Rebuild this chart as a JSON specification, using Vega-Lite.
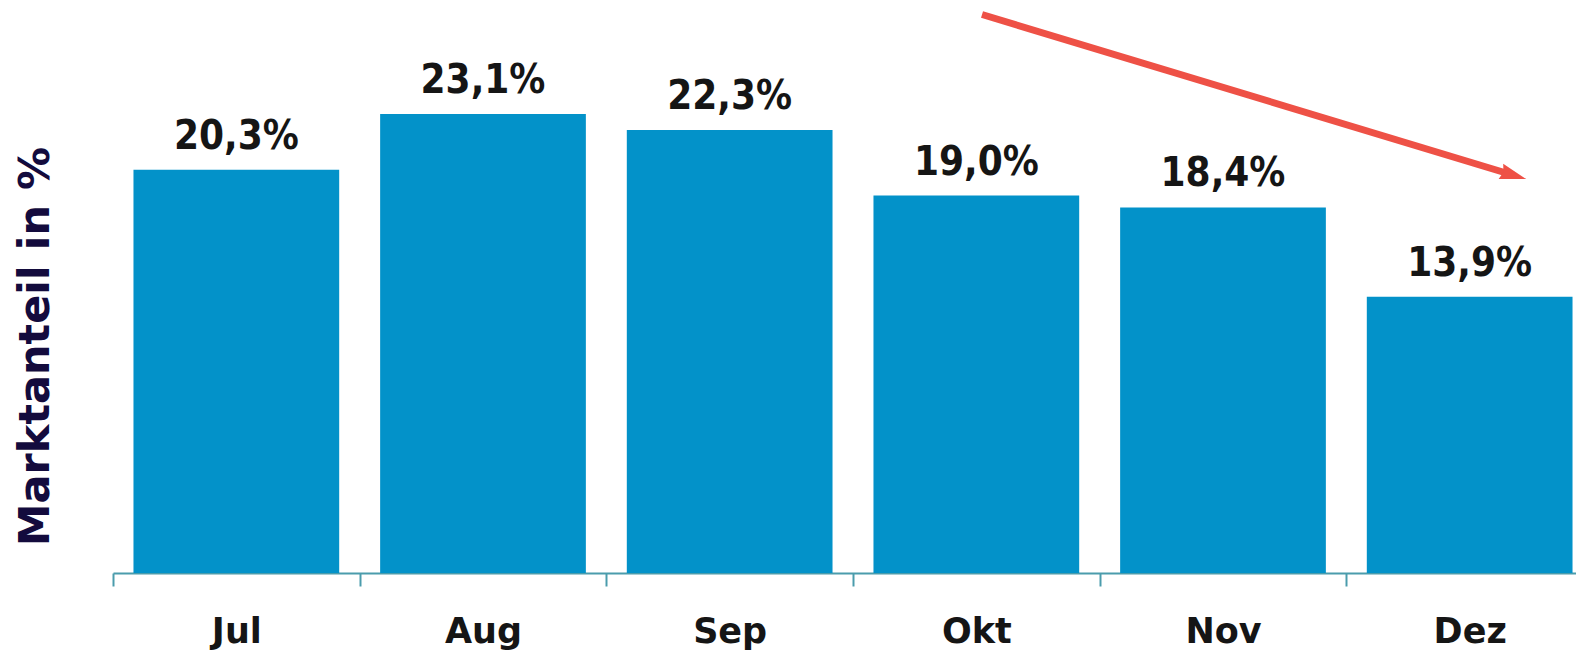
{
  "$schema": "https://vega.github.io/schema/vega-lite/v6.json",
  "width": 1480,
  "height": 573,
  "autosize": {"type": "none"},
  "padding": {"left": 113, "top": 0, "right": -17, "bottom": 79},
  "background": "white",
  "config": {"view": {"stroke": null}},
  "datasets": {
    "bars": [
      {"month": "Jul", "value": 20.3, "label": "20,3%"},
      {"month": "Aug", "value": 23.1, "label": "23,1%"},
      {"month": "Sep", "value": 22.3, "label": "22,3%"},
      {"month": "Okt", "value": 19.0, "label": "19,0%"},
      {"month": "Nov", "value": 18.4, "label": "18,4%"},
      {"month": "Dez", "value": 13.9, "label": "13,9%"}
    ],
    "arrow": [
      {"ax": 3.523, "ay": 28.11},
      {"ax": 5.678, "ay": 20.02}
    ],
    "head": [
      {"ax": 5.678, "ay": 20.02}
    ]
  },
  "layer": [
    {
      "data": {"name": "bars"},
      "mark": {"type": "bar", "color": "#0392C9"},
      "encoding": {
        "x": {
          "field": "month", "type": "nominal", "sort": null,
          "scale": {"paddingInner": 0.166, "paddingOuter": 0.083},
          "axis": {
            "title": null,
            "labelAngle": 0,
            "labelFont": "DejaVu Sans",
            "labelFontWeight": "bold",
            "labelFontSize": 35,
            "labelColor": "#151515",
            "labelBaseline": "alphabetic",
            "labelPadding": 56,
            "tickOffset": -123.3,
            "labelOffset": 123.3,
            "tickSize": 13,
            "tickWidth": 2,
            "tickColor": "#4B9CAC",
            "domainColor": "#4B9CAC",
            "domainWidth": 2,
            "grid": false
          }
        },
        "y": {
          "field": "value", "type": "quantitative",
          "scale": {"domain": [0, 28.84], "nice": false},
          "axis": {
            "title": "Marktanteil in %",
            "labels": false, "ticks": false, "domain": false, "grid": false,
            "titleFont": "DejaVu Sans",
            "titleFontWeight": "bold",
            "titleFontSize": 43,
            "titleColor": "#130B3D",
            "titleAngle": -90,
            "titleX": -78,
            "titleY": 346,
            "titleAlign": "center",
            "titleBaseline": "middle"
          }
        }
      }
    },
    {
      "data": {"name": "bars"},
      "mark": {"type": "text", "font": "DejaVu Sans Condensed", "fontWeight": "bold", "fontSize": 40, "color": "#151515", "baseline": "alphabetic", "dy": -21},
      "encoding": {
        "x": {"field": "month", "type": "nominal", "sort": null, "scale": {"paddingInner": 0.166, "paddingOuter": 0.083}, "axis": null},
        "y": {"field": "value", "type": "quantitative"},
        "text": {"field": "label"}
      }
    },
    {
      "data": {"name": "arrow"},
      "mark": {"type": "line", "color": "#EE5146", "strokeWidth": 7, "clip": false},
      "encoding": {
        "x": {"field": "ax", "type": "quantitative", "scale": {"domain": [0, 6], "nice": false, "zero": false}, "axis": null},
        "y": {"field": "ay", "type": "quantitative"}
      }
    },
    {
      "data": {"name": "head"},
      "mark": {"type": "point", "shape": "M 1 0 L -1 -0.6 L -0.8 0 L -1 0.6 Z", "filled": true, "color": "#EE5146", "opacity": 1, "size": 700, "angle": 16.8, "clip": false},
      "encoding": {
        "x": {"field": "ax", "type": "quantitative", "scale": {"domain": [0, 6], "nice": false, "zero": false}, "axis": null},
        "y": {"field": "ay", "type": "quantitative"}
      }
    }
  ],
  "resolve": {"scale": {"x": "independent"}, "axis": {"x": "independent"}}
}
